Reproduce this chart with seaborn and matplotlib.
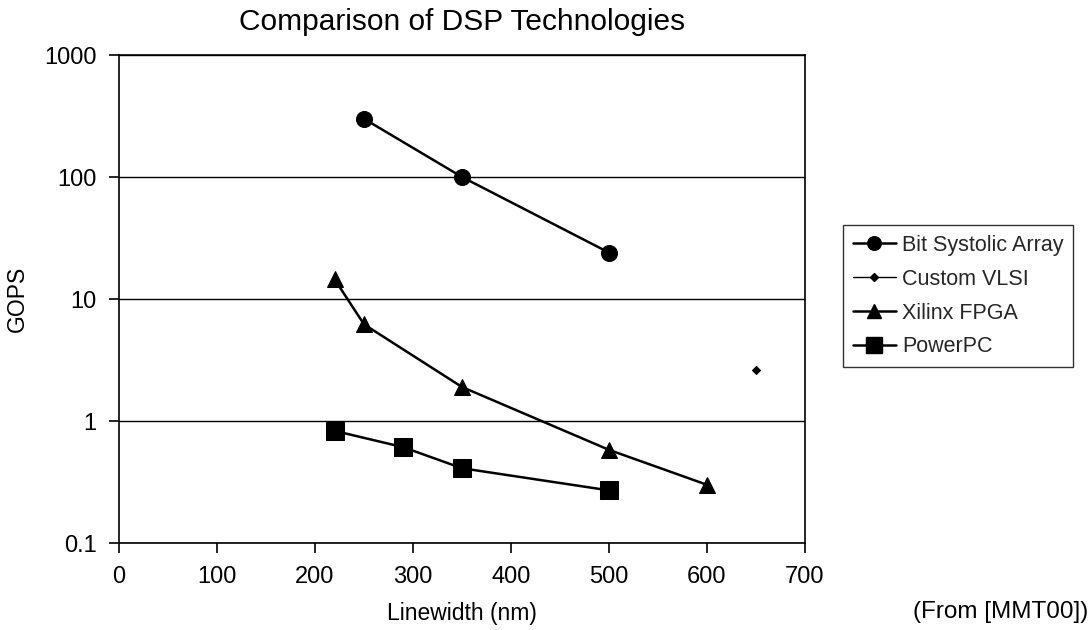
import matplotlib
matplotlib.use("Agg")
import matplotlib.pyplot as plt
from matplotlib.lines import Line2D
import seaborn as sns
import pandas as pd

# ---------------------------------------------------------------------------
# Data
# ---------------------------------------------------------------------------
bit_x = [250, 350, 500]
bit_y = [300, 100, 24]

vlsi_x = [650]
vlsi_y = [2.6]

fpga_x = [220, 250, 350, 500, 600]
fpga_y = [14.5, 6.2, 1.9, 0.58, 0.3]

ppc_x = [220, 290, 350, 500]
ppc_y = [0.83, 0.61, 0.41, 0.27]

series_names = ["Bit Systolic Array", "Custom VLSI", "Xilinx FPGA", "PowerPC"]
y_ticks = [0.1, 1, 10, 100, 1000]
y_tick_labels = ["0.1", "1", "10", "100", "1000"]
x_ticks = [0, 100, 200, 300, 400, 500, 600, 700]

# ---------------------------------------------------------------------------
# Style
# ---------------------------------------------------------------------------
sns.set_theme(style="white")
plt.rcParams["font.family"] = ["Liberation Sans", "DejaVu Sans"]

styles = {
    "Bit Systolic Array": dict(marker="o", markersize=11.5, linewidth=1.8),
    "Custom VLSI":        dict(marker="D", markersize=4,    linewidth=1.0),
    "Xilinx FPGA":        dict(marker="^", markersize=11.5, linewidth=1.8),
    "PowerPC":            dict(marker="s", markersize=13,   linewidth=1.8),
}

fig = plt.figure(figsize=(10.92, 6.30), dpi=100)
ax = fig.add_axes([119 / 1092, 1 - 543 / 630, (805 - 119) / 1092, (543 - 55) / 630])

data = [(bit_x, bit_y), (vlsi_x, vlsi_y), (fpga_x, fpga_y), (ppc_x, ppc_y)]
for name, (xs, ys) in zip(series_names, data):
    df = pd.DataFrame({"x": xs, "y": ys})
    st = styles[name]
    sns.lineplot(data=df, x="x", y="y", ax=ax, color="black",
                 marker=st["marker"], markersize=st["markersize"],
                 linewidth=st["linewidth"], markeredgecolor="black",
                 markerfacecolor="black", legend=False)

ax.set_yscale("log")
ax.set_ylim(0.1, 1000)
ax.set_xlim(0, 700)
ax.set_yticks(y_ticks)
ax.set_yticklabels(y_tick_labels)
ax.minorticks_off()
ax.set_xticks(x_ticks)

ax.yaxis.grid(True, color="black", linewidth=1.0)
ax.set_axisbelow(True)

for side in ["left", "bottom", "top", "right"]:
    ax.spines[side].set_visible(True)
    ax.spines[side].set_color("black")
    ax.spines[side].set_linewidth(1.2)

ax.tick_params(axis="x", direction="out", length=7, width=1.2, colors="black",
               labelsize=17, pad=9.5, bottom=True)
ax.tick_params(axis="y", direction="out", length=7, width=1.2, colors="black",
               labelsize=17, pad=9, left=True)

ax.set_xlabel("Linewidth (nm)", fontsize=16.5, labelpad=10, color="black")
ax.set_ylabel("GOPS", fontsize=16.5, labelpad=11, color="black")
ax.set_title("Comparison of DSP Technologies", fontsize=21.5, pad=18, color="black")

fig.text(1088 / 1092, 1 - 612 / 630, "(From [MMT00])", ha="right", va="center",
         fontsize=17.5, color="black")

handles = [Line2D([], [], color="black", marker=styles[n]["marker"],
                  markersize=styles[n]["markersize"] * (0.85 if n != "Custom VLSI" else 1.0),
                  linewidth=styles[n]["linewidth"]) for n in series_names]
leg = fig.legend(handles, series_names, loc="upper left",
                 bbox_to_anchor=(843 / 1092, 1 - 225 / 630), frameon=True,
                 fancybox=False, edgecolor="black", fontsize=15.5,
                 handlelength=2.0, handletextpad=0.3, labelspacing=0.6,
                 borderpad=0.45, borderaxespad=0)
leg.get_frame().set_linewidth(1.0)

fig.savefig("out.png", dpi=100)
